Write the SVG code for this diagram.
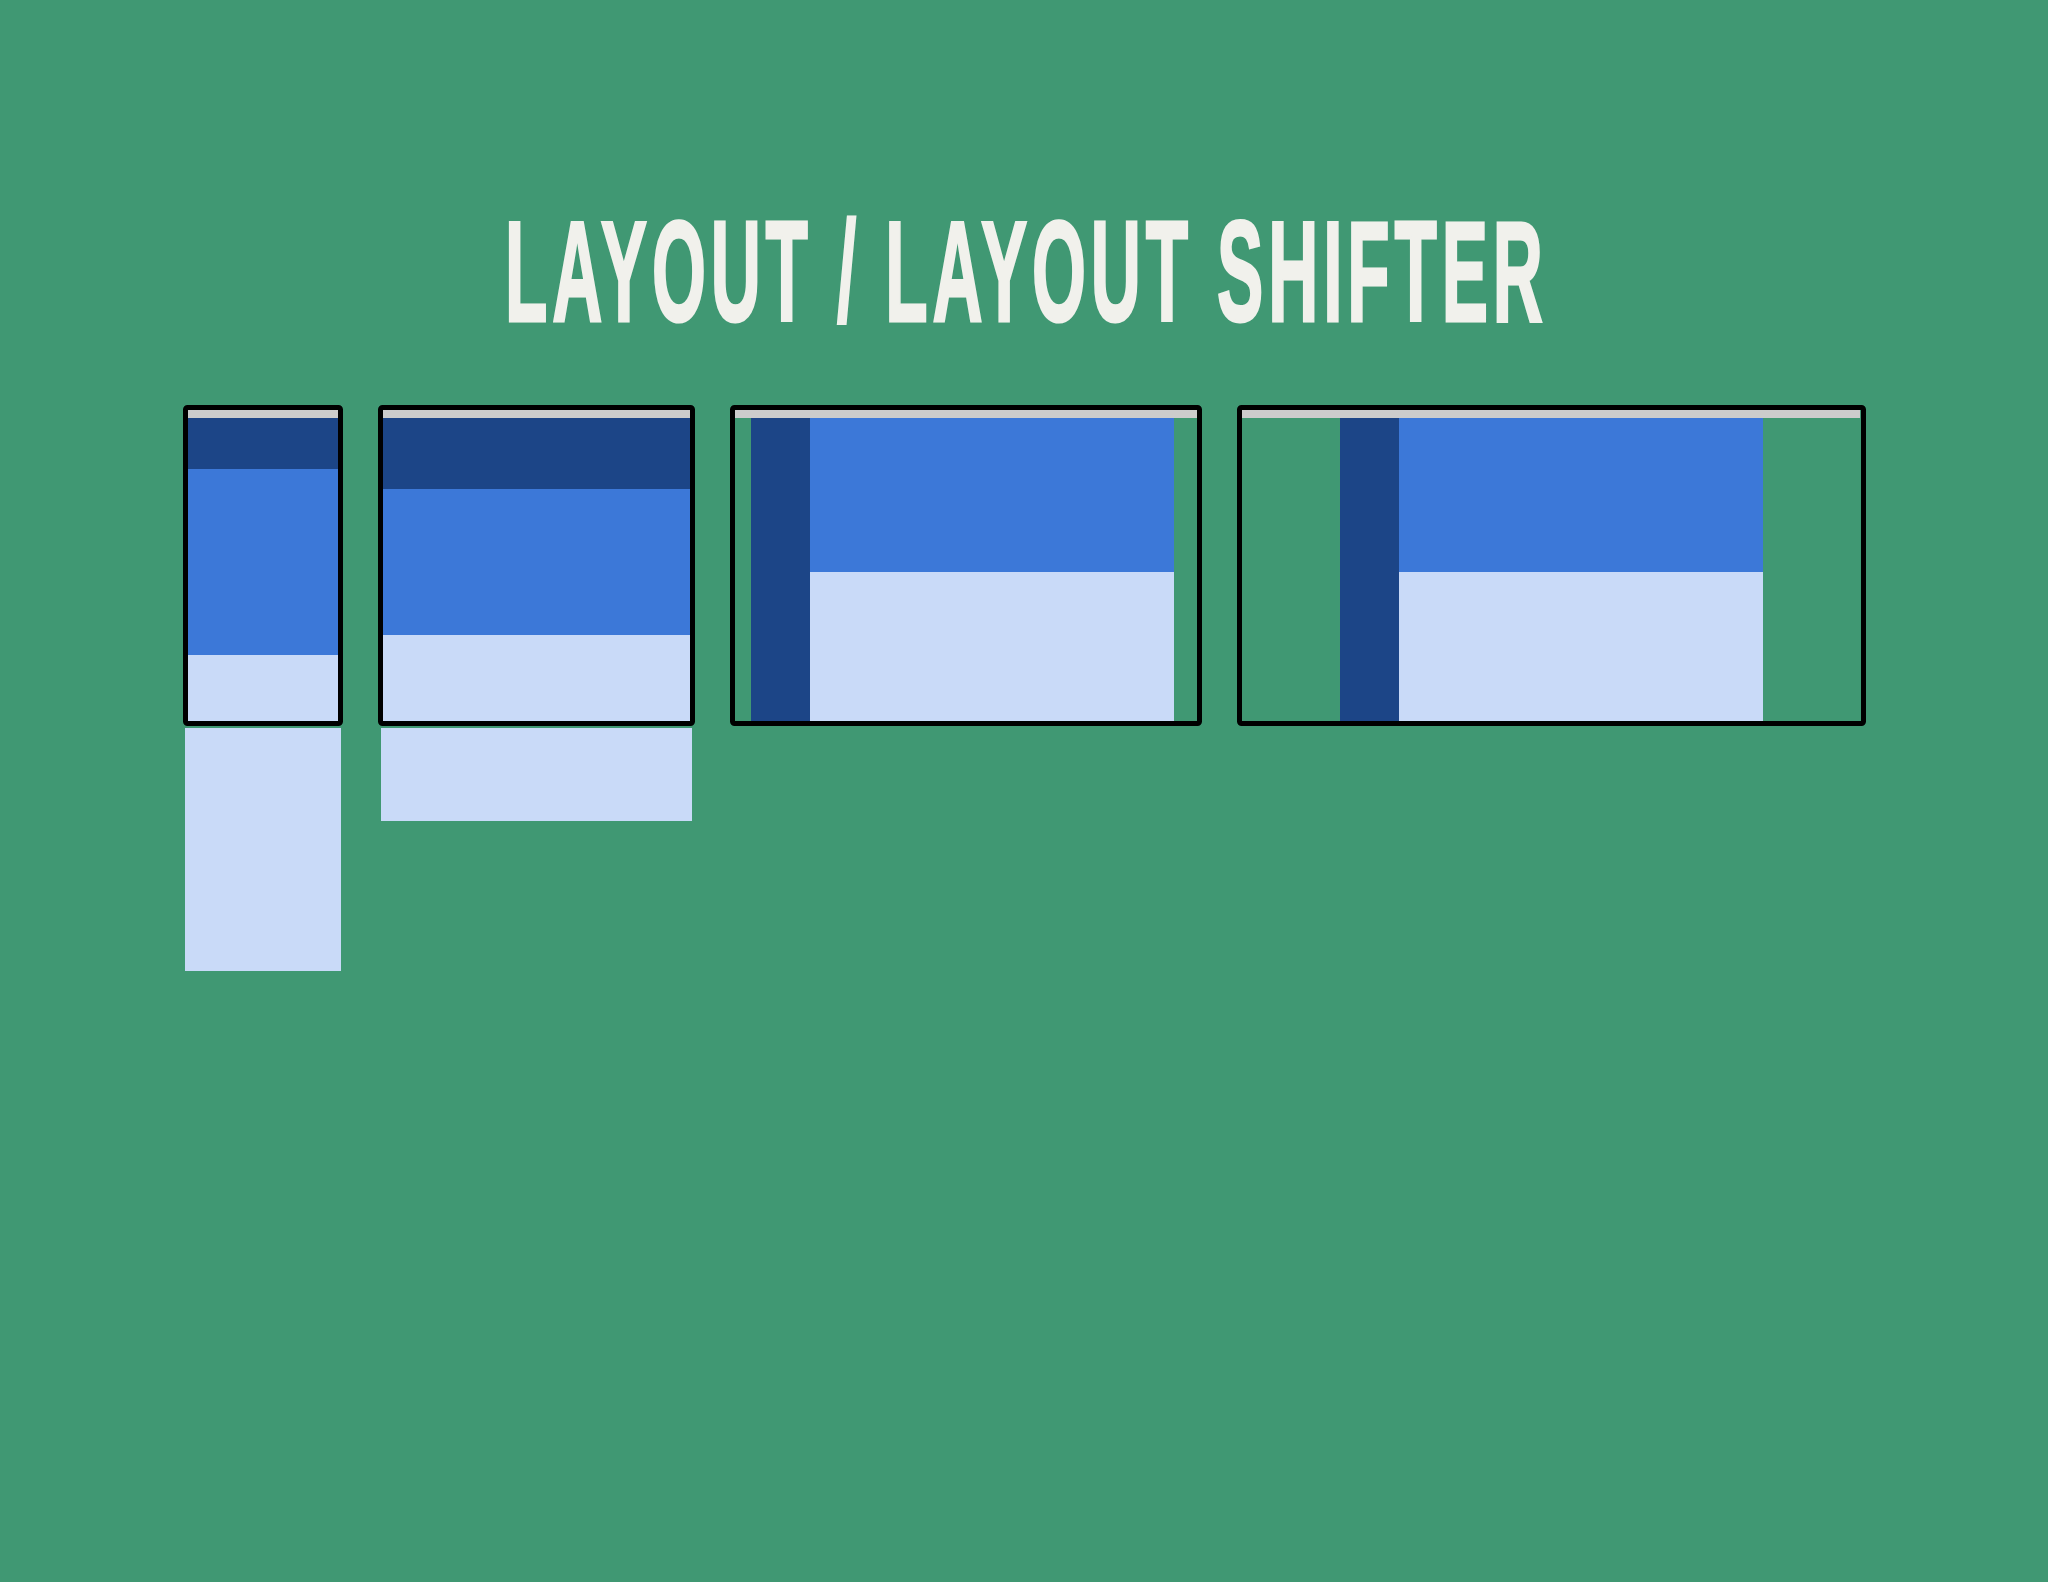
<svg xmlns="http://www.w3.org/2000/svg" width="2048" height="1582" viewBox="0 0 2048 1582">
<style>
.frame{fill:none;stroke:#000;stroke-width:5;}
.bar{fill:#cccccc;}
.dark{fill:#1c4587;}
.mid{fill:#3c78d8;}
.light{fill:#c9daf8;}
.title{font-family:"Liberation Sans",Arial,sans-serif;font-weight:bold;fill:#f1f1ec;stroke:#f1f1ec;stroke-width:3;letter-spacing:10px;}
</style>
<rect x="0" y="0" width="2048" height="1582" fill="#409873"/>
<g transform="translate(505,321) scale(0.485,1)">
<text class="title" x="0" y="0" font-size="143">LAYOUT / LAYOUT SHIFTER</text>
</g>
<g id="phone">
<rect class="light" x="185" y="728" width="156" height="243"/>
<rect class="bar" x="188" y="410" width="150" height="8"/>
<rect class="dark" x="188" y="418" width="150" height="51"/>
<rect class="mid" x="188" y="469" width="150" height="186"/>
<rect class="light" x="188" y="655" width="150" height="66"/>
<rect class="frame" x="185.5" y="407.5" width="155" height="316" rx="2"/>
</g>
<g id="tablet">
<rect class="light" x="381" y="728" width="311" height="93"/>
<rect class="bar" x="383" y="410" width="307" height="8"/>
<rect class="dark" x="383" y="418" width="307" height="71"/>
<rect class="mid" x="383" y="489" width="307" height="146"/>
<rect class="light" x="383" y="635" width="307" height="86"/>
<rect class="frame" x="380.5" y="407.5" width="312" height="316" rx="2"/>
</g>
<g id="laptop">
<rect class="bar" x="735" y="410" width="462" height="8"/>
<rect class="dark" x="751" y="418" width="59" height="303"/>
<rect class="mid" x="810" y="418" width="364" height="154"/>
<rect class="light" x="810" y="572" width="364" height="149"/>
<rect class="frame" x="732.5" y="407.5" width="467" height="316" rx="2"/>
</g>
<g id="desktop">
<rect class="bar" x="1242" y="410" width="618" height="8"/>
<rect class="dark" x="1340" y="418" width="59" height="303"/>
<rect class="mid" x="1399" y="418" width="364" height="154"/>
<rect class="light" x="1399" y="572" width="364" height="149"/>
<rect class="frame" x="1239.5" y="407.5" width="624" height="316" rx="2"/>
</g>
<g id="connectors"/>
</svg>
